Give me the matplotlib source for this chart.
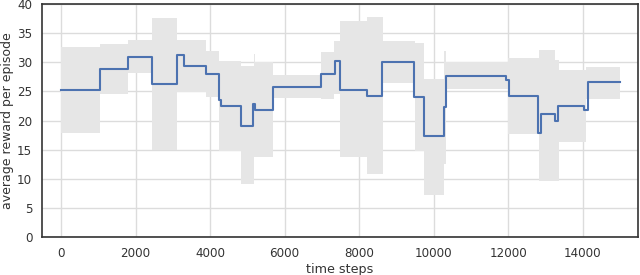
import matplotlib
matplotlib.use("Agg")
import matplotlib.pyplot as plt
import numpy as np

# mean reward line (step, post)
line_t = [0, 1050, 1800, 2440, 3110, 3300, 3890, 4240, 4280, 4830, 5160, 5200,
          5700, 6980, 7350, 7480, 8210, 8620, 9460, 9735, 10270, 10325, 11940,
          12005, 12790, 12865, 13250, 13340, 14030, 14125, 15000]
line_v = [25.2, 28.8, 31.0, 26.2, 31.2, 29.4, 28.0, 23.6, 22.5, 19.1, 22.8, 21.8,
          25.75, 28.0, 30.3, 25.2, 24.3, 30.0, 24.1, 17.3, 22.3, 27.7, 27.0,
          24.3, 17.8, 21.1, 20.0, 22.5, 21.75, 26.55, 26.55]

# shaded band (step, post)
band_t = [0, 1050, 1800, 2440, 3110, 3890, 4250, 4830, 5170, 5200, 5700, 6970,
          7330, 7480, 8220, 8640, 9490, 9735, 10270, 10320, 12000, 12830, 13250,
          13360, 14080, 15000]
band_hi = [32.7, 33.1, 33.8, 37.65, 33.9, 32.0, 30.3, 29.3, 31.5, 30.1, 27.8, 31.7,
           33.6, 37.1, 37.8, 33.7, 33.4, 27.2, 32.0, 30.0, 30.8, 32.1, 30.4,
           28.7, 29.2, 29.2]
band_lo = [17.8, 24.5, 28.2, 14.9, 24.9, 24.0, 14.8, 9.05, 13.8, 13.8, 23.8, 23.7,
           24.5, 13.8, 10.8, 26.4, 14.8, 7.3, 12.5, 25.5, 17.7, 9.6, 9.6,
           16.4, 23.7, 23.7]

xticks = [0, 2000, 4000, 6000, 8000, 10000, 12000, 14000]
yticks = [0, 5, 10, 15, 20, 25, 30, 35, 40]

fig = plt.figure(figsize=(6.4, 2.75), dpi=100)
ax = fig.add_axes([0.0656, 0.138, 0.9314, 0.847])

ax.fill_between(band_t, band_lo, band_hi, step='post', color='#e6e6e6',
                linewidth=0, zorder=1)
ax.step(line_t, line_v, where='post', color='#4c72b0', linewidth=1.5, zorder=3)

ax.set_xlim(-510, 15480)
ax.set_ylim(0, 40)
ax.set_xticks(xticks)
ax.set_yticks(yticks)
ax.grid(True, color='#dcdcdc', linewidth=1.0, zorder=0)
ax.set_axisbelow(True)
for s in ax.spines.values():
    s.set_color('#333333')
    s.set_linewidth(1.2)
ax.tick_params(length=0, labelsize=8.6, colors='#333333', pad=7)
ax.set_xlabel('time steps', fontsize=9.2, color='#333333', labelpad=2)
ax.set_ylabel('average reward per episode', fontsize=9.0, color='#333333', labelpad=2)

fig.savefig('out.png', dpi=100)
